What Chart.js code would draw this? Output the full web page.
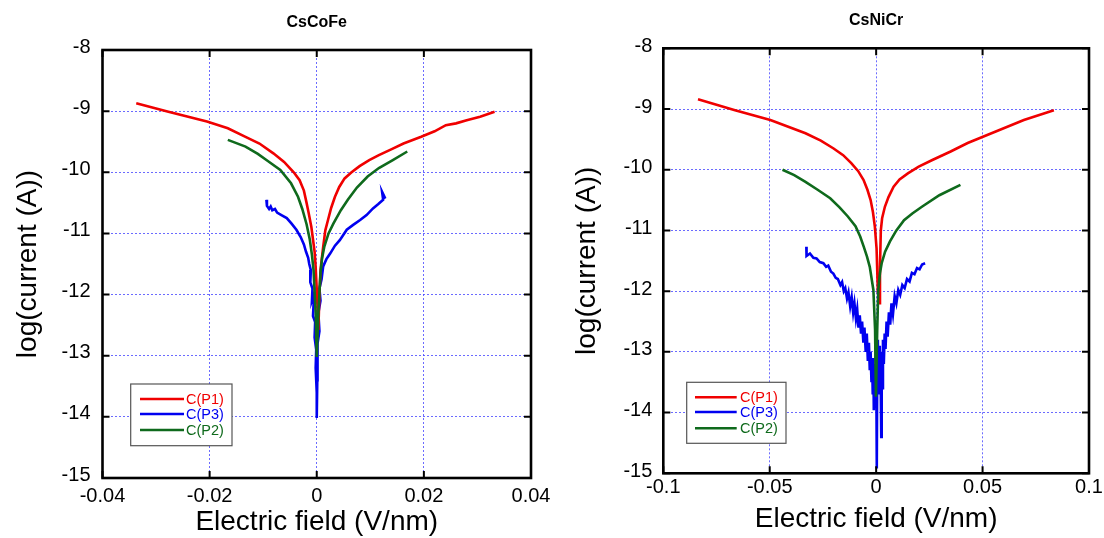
<!DOCTYPE html>
<html><head><meta charset="utf-8">
<script src="https://cdn.jsdelivr.net/npm/chart.js@4.4.1/dist/chart.umd.min.js"></script>
<style>
html,body{margin:0;padding:0;background:#fff;}
#wrap{position:relative;width:1104px;height:538px;overflow:hidden;}
canvas{position:absolute;top:0;}
</style></head><body>
<div id="wrap">
<canvas id="c1" width="552" height="538" style="left:0;width:552px;height:538px"></canvas>
<canvas id="c2" width="552" height="538" style="left:552px;width:552px;height:538px"></canvas>
</div>
<script>
// ---------- shared ----------
const seriesLabels = ['C(P1)', 'C(P3)', 'C(P2)'];
const yTicks = [-15, -14, -13, -12, -11, -10, -9, -8];
const yTitle = 'log(current (A))';
const xTitle = 'Electric field (V/nm)';

// ---------- CsCoFe ----------
const titleL = 'CsCoFe';
const xTicksL = [-0.04, -0.02, 0, 0.02, 0.04];
const coP1x = [-0.0337,-0.0277,-0.0205,-0.0166,-0.0133,-0.0107,-0.0081,-0.0061,-0.0043,-0.0032,-0.0024,-0.0019,-0.0015,-0.001,-0.0007,-0.0004,-0.0002,0.0001,0.0003,0.0005,0.0007,0.0012,0.0016,0.0021,0.0027,0.0034,0.0042,0.0052,0.0065,0.008,0.0098,0.0116,0.014,0.0162,0.0195,0.022,0.0241,0.026,0.028,0.0305,0.0332];
const coP1y = [-8.87,-9.01,-9.17,-9.28,-9.42,-9.53,-9.69,-9.83,-10.0,-10.13,-10.3,-10.5,-10.67,-10.9,-11.1,-11.3,-11.55,-12.1,-12.58,-12.0,-11.6,-11.22,-10.95,-10.78,-10.58,-10.4,-10.24,-10.1,-10.0,-9.9,-9.8,-9.72,-9.62,-9.53,-9.42,-9.33,-9.23,-9.2,-9.15,-9.09,-9.01];
const coP3x = [-0.0094,-0.0093,-0.0089,-0.0086,-0.0083,-0.0078,-0.0074,-0.0066,-0.0056,-0.0047,-0.0038,-0.003,-0.0024,-0.002,-0.0016,-0.0014,-0.0011,-0.0012,-0.0008,-0.0009,-0.0005,-0.0007,-0.0003,-0.0004,-0.0001,-0.0002,0,0,0.0001,0.0002,0.0001,0.0005,0.0003,0.0007,0.0005,0.0009,0.0012,0.0018,0.0025,0.0034,0.0043,0.0056,0.0068,0.0081,0.0093,0.0105,0.0115,0.0124,0.0122,0.0128];
const coP3y = [-10.45,-10.55,-10.6,-10.56,-10.62,-10.6,-10.66,-10.7,-10.75,-10.84,-10.94,-11.06,-11.18,-11.3,-11.4,-11.5,-11.6,-11.8,-11.9,-12.1,-12.0,-12.35,-12.45,-12.7,-12.9,-13.2,-13.6,-14.02,-13.4,-13.1,-12.8,-12.6,-12.3,-12.1,-11.9,-11.75,-11.54,-11.42,-11.33,-11.2,-11.11,-10.94,-10.86,-10.78,-10.7,-10.59,-10.52,-10.45,-10.32,-10.43];
const coP2x = [-0.0166,-0.0133,-0.011,-0.0094,-0.0068,-0.0048,-0.0035,-0.0027,-0.0019,-0.0013,-0.0009,-0.0006,-0.0002,0,0.0003,0.0007,0.001,0.0014,0.0022,0.0031,0.0045,0.0058,0.0075,0.0095,0.0116,0.0142,0.0169];
const coP2y = [-9.47,-9.58,-9.7,-9.8,-9.96,-10.18,-10.4,-10.6,-10.85,-11.1,-11.35,-11.6,-12.3,-13.02,-12.3,-11.65,-11.4,-11.22,-11.0,-10.84,-10.62,-10.45,-10.25,-10.07,-9.93,-9.8,-9.66];

// ---------- CsNiCr ----------
const titleR = 'CsNiCr';
const xTicksR = [-0.1, -0.05, 0, 0.05, 0.1];
const niP1x = [-0.0837,-0.0663,-0.0497,-0.0332,-0.026,-0.02,-0.0155,-0.0117,-0.0085,-0.0059,-0.0041,-0.0026,-0.0015,-0.0006,0.0002,0.0008,0.0015,0.0018,0.0022,0.0028,0.0041,0.0058,0.0082,0.011,0.0149,0.02,0.0264,0.035,0.043,0.0562,0.0694,0.0835];
const niP1y = [-8.84,-9.02,-9.18,-9.4,-9.52,-9.65,-9.76,-9.89,-10.02,-10.17,-10.33,-10.5,-10.7,-10.94,-11.3,-12.0,-12.2,-11.6,-11.0,-10.8,-10.61,-10.45,-10.28,-10.16,-10.06,-9.95,-9.84,-9.7,-9.56,-9.37,-9.18,-9.02];
const niP3x = [-0.0328,-0.0327,-0.0311,-0.0295,-0.028,-0.0265,-0.0248,-0.0235,-0.0225,-0.0212,-0.0201,-0.019,-0.018,-0.0168,-0.016,-0.0152,-0.0145,-0.0137,-0.013,-0.0122,-0.0115,-0.0108,-0.0102,-0.0095,-0.0089,-0.0083,-0.0077,-0.0071,-0.0066,-0.006,-0.0055,-0.0049,-0.0044,-0.0039,-0.0034,-0.003,-0.0026,-0.0022,-0.0019,-0.0016,-0.0013,-0.0011,-0.0008,-0.0005,-0.0003,0,0.0003,0.0005,0.0008,0.0011,0.0014,0.0017,0.002,0.0024,0.0026,0.0029,0.0032,0.0036,0.004,0.0044,0.0049,0.0054,0.006,0.0066,0.0072,0.0079,0.0087,0.0095,0.0104,0.0113,0.0123,0.0134,0.0145,0.0157,0.0168,0.018,0.0192,0.0204,0.0216,0.023];
const niP3y = [-11.27,-11.42,-11.38,-11.45,-11.46,-11.52,-11.54,-11.6,-11.58,-11.68,-11.71,-11.78,-11.8,-11.9,-11.85,-12.0,-11.95,-12.12,-12.02,-12.25,-12.1,-12.35,-12.2,-12.45,-12.3,-12.6,-12.4,-12.7,-12.5,-12.85,-12.6,-13.0,-12.7,-13.15,-12.85,-13.3,-13.0,-13.5,-13.1,-13.7,-13.2,-13.96,-13.3,-13.8,-13.1,-12.9,-14.92,-13.4,-12.8,-13.6,-12.9,-13.7,-13.0,-14.4,-13.3,-13.6,-12.8,-13.2,-12.7,-12.95,-12.5,-12.75,-12.35,-12.55,-12.2,-12.38,-12.08,-12.2,-11.98,-12.06,-11.9,-11.95,-11.8,-11.84,-11.7,-11.72,-11.62,-11.64,-11.56,-11.54];
const niP2x = [-0.044,-0.0385,-0.0332,-0.0275,-0.0216,-0.0172,-0.0133,-0.0097,-0.0075,-0.0058,-0.0043,-0.003,-0.0013,-0.0005,-0.0001,0.0005,0.001,0.0018,0.0026,0.0042,0.0065,0.0095,0.0131,0.017,0.0215,0.0297,0.0396];
const niP2y = [-10.0,-10.09,-10.2,-10.33,-10.47,-10.62,-10.77,-10.93,-11.1,-11.27,-11.43,-11.6,-11.98,-12.64,-13.74,-12.64,-11.98,-11.7,-11.54,-11.35,-11.18,-11.0,-10.83,-10.72,-10.61,-10.42,-10.25];

// ---------- styling ----------
const FONT = '"Liberation Sans", Arial, Helvetica, sans-serif';
const colors = ['#f00000', '#0000f0', '#0f6a1c'];
const drawOrder = [1, 2, 0];

const pts = (xs, ys) => xs.map((x, i) => ({ x: x, y: ys[i] }));

const framePlugin = {
  id: 'frameTicks',
  afterDraw(chart, args, opts) {
    const { ctx, chartArea: a, scales } = chart;
    const x = scales.x, y = scales.y;
    ctx.save();
    ctx.strokeStyle = '#000';
    ctx.lineWidth = 2;
    const tl = 7;
    ctx.beginPath();
    x.ticks.forEach(t => {
      const p = x.getPixelForValue(t.value);
      ctx.moveTo(p, a.bottom); ctx.lineTo(p, a.bottom - tl);
      ctx.moveTo(p, a.top); ctx.lineTo(p, a.top + tl);
    });
    y.ticks.forEach(t => {
      const p = y.getPixelForValue(t.value);
      ctx.moveTo(a.left, p); ctx.lineTo(a.left + tl, p);
      ctx.moveTo(a.right, p); ctx.lineTo(a.right - tl, p);
    });
    ctx.stroke();
    ctx.lineWidth = 2.6;
    ctx.strokeRect(a.left, a.top, a.right - a.left, a.bottom - a.top);

    const L = opts.legend;
    ctx.fillStyle = '#fff';
    ctx.fillRect(L.left, L.top, L.width, L.height);
    ctx.lineWidth = 1.2;
    ctx.strokeStyle = '#555';
    ctx.strokeRect(L.left, L.top, L.width, L.height);
    ctx.font = '14.5px ' + FONT;
    ctx.textBaseline = 'middle';
    ctx.textAlign = 'left';
    chart.data.datasets.forEach((ds, i) => {
      const ry = L.rows[i];
      ctx.strokeStyle = ds.borderColor;
      ctx.lineWidth = 2.6;
      ctx.beginPath();
      ctx.moveTo(L.lineX1, ry); ctx.lineTo(L.lineX2, ry);
      ctx.stroke();
      ctx.fillStyle = ds.borderColor;
      ctx.fillText(ds.label, L.textX, ry + 0.5);
    });
    ctx.restore();
  }
};

function makeChart(id, cfg) {
  const datasets = cfg.series.map((s, i) => ({
    label: seriesLabels[i],
    data: pts(s[0], s[1]),
    borderColor: colors[i],
    backgroundColor: colors[i],
    borderWidth: 2.6,
    pointRadius: 0,
    tension: 0,
    fill: false,
    order: drawOrder[i]
  }));
  return new Chart(document.getElementById(id), {
    type: 'line',
    data: { datasets },
    plugins: [framePlugin],
    options: {
      responsive: false,
      animation: false,
      devicePixelRatio: 1,
      layout: { padding: { left: 0, right: cfg.padRight, top: 0, bottom: 0 } },
      plugins: {
        legend: { display: false },
        tooltip: { enabled: false },
        title: {
          display: true, text: cfg.title, fullSize: false, color: '#000',
          font: { family: FONT, size: 16, weight: 'bold' },
          padding: { top: cfg.titlePadTop, bottom: cfg.titlePadBottom }
        },
        frameTicks: { legend: cfg.legend }
      },
      scales: {
        x: {
          type: 'linear', min: cfg.xTicks[0], max: cfg.xTicks[cfg.xTicks.length - 1],
          afterBuildTicks: s => { s.ticks = cfg.xTicks.map(v => ({ value: v })); },
          afterFit: s => { s.height = cfg.xAxisHeight; s.paddingLeft = 0; s.paddingRight = 0; },
          ticks: {
            autoSkip: false, maxRotation: 0, color: '#000', padding: cfg.xTickPad,
            font: { family: FONT, size: 20 },
            callback: v => String(v)
          },
          grid: { color: 'rgba(70,70,255,0.8)', lineWidth: 1, drawTicks: false },
          border: { display: false, dash: [2, 2] },
          title: {
            display: true, text: xTitle, color: '#000',
            font: { family: FONT, size: 28 },
            padding: { top: 0, bottom: cfg.xTitlePadBottom }
          }
        },
        y: {
          type: 'linear', min: -15, max: -8,
          afterBuildTicks: s => { s.ticks = yTicks.map(v => ({ value: v })); },
          afterFit: s => { s.width = cfg.yAxisWidth; s.paddingTop = 0; s.paddingBottom = 0; },
          ticks: {
            autoSkip: false, color: '#000', padding: cfg.yTickPad, labelOffset: cfg.yLabelOffset,
            font: { family: FONT, size: 20 },
            callback: v => String(v)
          },
          grid: { color: 'rgba(70,70,255,0.8)', lineWidth: 1, drawTicks: false },
          border: { display: false, dash: [2, 2] },
          title: {
            display: true, text: yTitle, color: '#000',
            font: { family: FONT, size: 28 },
            padding: { top: cfg.yTitlePadTop, bottom: 0 }
          }
        }
      }
    }
  });
}

makeChart('c1', {
  title: titleL, xTicks: xTicksL,
  series: [[coP1x, coP1y], [coP3x, coP3y], [coP2x, coP2y]],
  padRight: 21, titlePadTop: 12.9, titlePadBottom: 17.9,
  xAxisHeight: 60, yAxisWidth: 102.5,
  xTickPad: 6.5, yTickPad: 12, yLabelOffset: -3,
  xTitlePadBottom: -1, yTitlePadTop: 11.5,
  legend: { left: 130.7, top: 384, width: 101.3, height: 61.7, lineX1: 140, lineX2: 184, textX: 186, rows: [399, 414, 430] }
});

makeChart('c2', {
  title: titleR, xTicks: xTicksR,
  series: [[niP1x, niP1y], [niP3x, niP3y], [niP2x, niP2y]],
  padRight: 15, titlePadTop: 11.4, titlePadBottom: 17.7,
  xAxisHeight: 64.7, yAxisWidth: 111.3,
  xTickPad: 2.5, yTickPad: 11, yLabelOffset: -2,
  xTitlePadBottom: 2.2, yTitlePadTop: 18.5,
  legend: { left: 134.7, top: 382.3, width: 99.3, height: 61, lineX1: 143, lineX2: 184.7, textX: 188, rows: [397.3, 412, 428.3] }
});
</script>
</body></html>
